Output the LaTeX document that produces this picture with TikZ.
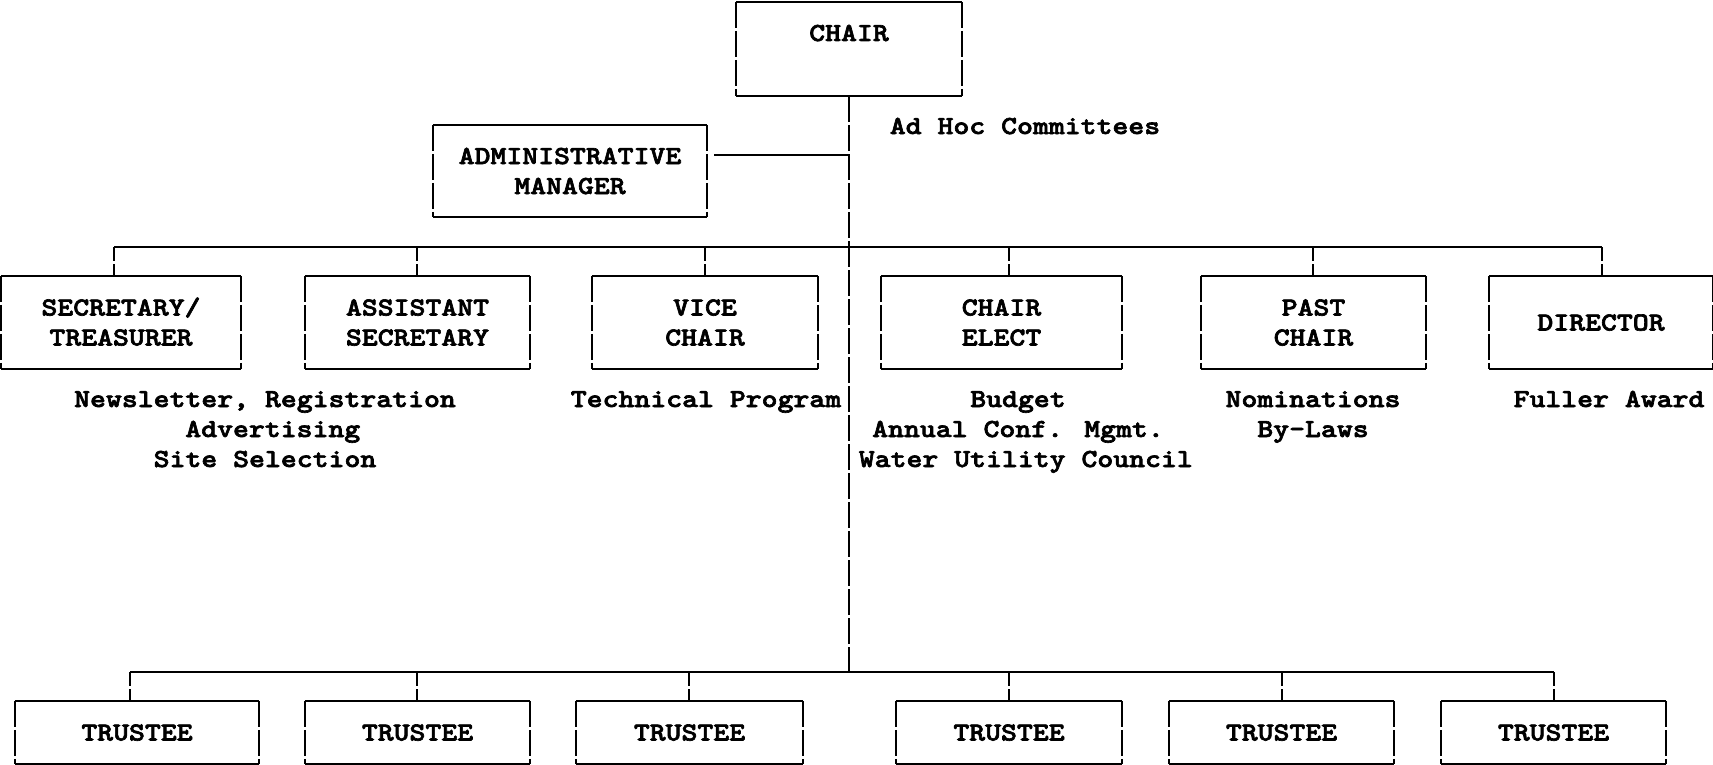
\documentclass[tikz,border=0pt]{standalone}
\usepackage{fontspec}
\newfontfamily\courb{lmmonolt10-bold.otf}[FakeStretch=1.165,FakeBold=2.5]
\begin{document}
\begin{tikzpicture}[x=0.5pt,y=-0.5pt,line width=1.1pt,
  every node/.style={font=\fontsize{13}{15}\selectfont\courb,inner sep=0pt,align=center,text height=8pt,text depth=0pt},
  two/.style={text height=23pt},
  three/.style={text height=38pt},
  box/.style 2 args={minimum width=#1*0.5pt,minimum height=#2*0.5pt},
  vdash/.style={dash pattern=on 13pt off 1.5pt}]
\useasboundingbox (0,0) rectangle (1713,765);
% boxes
\node[box={224}{92},text depth=16pt] (chair) at (849,49) {CHAIR};
\node[box={272}{90},two] (admin) at (570,171) {ADMINISTRATIVE\\MANAGER};
\node[box={238}{91},two] (sec) at (121,322.5) {SECRETARY/\\TREASURER};
\node[box={223}{91},two] (asst) at (417.5,322.5) {ASSISTANT\\SECRETARY};
\node[box={224}{91},two] (vice) at (705,322.5) {VICE\\CHAIR};
\node[box={239}{91},two] (elect) at (1001.5,322.5) {CHAIR\\ELECT};
\node[box={223}{91},two] (past) at (1313.5,322.5) {PAST\\CHAIR};
\node[box={222}{91}] (dir) at (1601,322.5) {DIRECTOR};
\node[box={242}{61}] (tr1) at (137,732.5) {TRUSTEE};
\node[box={223}{61}] (tr2) at (417.5,732.5) {TRUSTEE};
\node[box={225}{61}] (tr3) at (689.5,732.5) {TRUSTEE};
\node[box={224}{61}] (tr4) at (1009,732.5) {TRUSTEE};
\node[box={223}{61}] (tr5) at (1281.5,732.5) {TRUSTEE};
\node[box={223}{61}] (tr6) at (1553.5,732.5) {TRUSTEE};
\foreach \n in {chair,admin,sec,asst,vice,elect,past,dir,tr1,tr2,tr3,tr4,tr5,tr6}{
  \draw (\n.north west) -- (\n.north east);
  \draw (\n.south west) -- (\n.south east);
  \draw[vdash] (\n.north west) -- (\n.south west);
  \draw[vdash] (\n.north east) -- (\n.south east);
}
% texts
\node (adhoc) at (1025,126) {Ad Hoc Committees};
\node[three] (secnote) at (265,429) {Newsletter, Registration\\\hspace*{0.6em}Advertising\\Site Selection};
\node (tech) at (706,399) {Technical Program};
\node[three] (elnote) at (1018,429) {Budget\\Annual Conf. Mgmt.\\\hspace*{0.6em}Water Utility Council};
\node[two] (pastnote) at (1313,414) {Nominations\\By-Laws};
\node (dirnote) at (1609,399) {Fuller Award};
% buses
\coordinate (b1) at (114,247);
\coordinate (b2) at (417,247);
\coordinate (b3) at (705,247);
\coordinate (b4) at (1009,247);
\coordinate (b5) at (1313,247);
\coordinate (b6) at (1602,247);
\coordinate (t1) at (130,672);
\coordinate (t2) at (417,672);
\coordinate (t3) at (689,672);
\coordinate (t4) at (1009,672);
\coordinate (t5) at (1282,672);
\coordinate (t6) at (1554,672);
\draw (b1) -- (b6);
\draw (t1) -- (t6);
\draw[vdash,dash phase=6pt] (b1) -- (b1 |- sec.north);
\draw[vdash,dash phase=6pt] (b2) -- (b2 |- asst.north);
\draw[vdash,dash phase=6pt] (b3) -- (b3 |- vice.north);
\draw[vdash,dash phase=6pt] (b4) -- (b4 |- elect.north);
\draw[vdash,dash phase=6pt] (b5) -- (b5 |- past.north);
\draw[vdash,dash phase=6pt] (b6) -- (b6 |- dir.north);
\draw[vdash,dash phase=6pt] (t1) -- (t1 |- tr1.north);
\draw[vdash,dash phase=6pt] (t2) -- (t2 |- tr2.north);
\draw[vdash,dash phase=6pt] (t3) -- (t3 |- tr3.north);
\draw[vdash,dash phase=6pt] (t4) -- (t4 |- tr4.north);
\draw[vdash,dash phase=6pt] (t5) -- (t5 |- tr5.north);
\draw[vdash,dash phase=6pt] (t6) -- (t6 |- tr6.north);
% trunk
\draw[vdash] (chair.south) -- (chair.south |- t1);
\coordinate (ac) at ([shift={(7,-16)}]admin.east);
\draw (ac) -- (ac -| chair.south);
\end{tikzpicture}
\end{document}
